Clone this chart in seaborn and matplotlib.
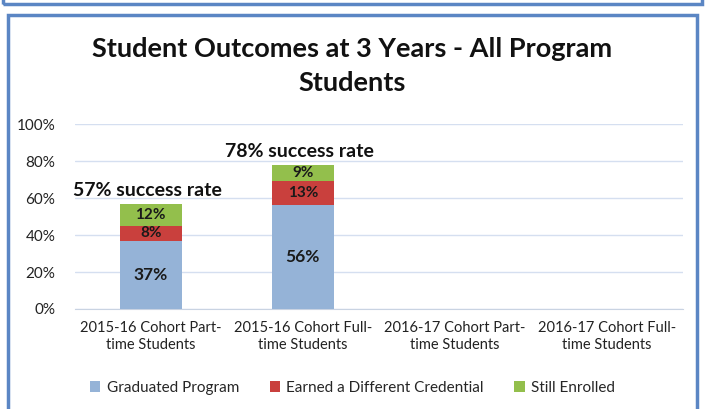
import numpy as np
import pandas as pd
import matplotlib
matplotlib.use("Agg")
import matplotlib.pyplot as plt
import seaborn as sns
from matplotlib.patches import Rectangle, Patch

# data
cohorts = ["2015-16 Cohort Part-\ntime Students", "2015-16 Cohort Full-\ntime Students",
           "2016-17 Cohort Part-\ntime Students", "2016-17 Cohort Full-\ntime Students"]
graduated = [37, 56, np.nan, np.nan]
credential = [8, 13, np.nan, np.nan]
enrolled = [12, 9, np.nan, np.nan]
success = [57, 78, np.nan, np.nan]

series_names = ["Graduated Program", "Earned a Different Credential", "Still Enrolled"]
colors = ["#95b3d7", "#c9403d", "#93bf4c"]

sns.set_style("white")
plt.rcParams["font.family"] = ["Lato", "DejaVu Sans"]

df = pd.DataFrame({"cohort": cohorts, "grad": graduated, "cred": credential, "enr": enrolled})
df["lvl2"] = df["grad"] + df["cred"]
df["lvl3"] = df["lvl2"] + df["enr"]

fig = plt.figure(figsize=(7.05, 4.09), dpi=100)
ax = fig.add_axes([0.106, 0.2445, 0.863, 0.4523])

# stacked bars drawn as overlapping cumulative layers
for col, c in zip(["lvl3", "lvl2", "grad"], colors[::-1]):
    sns.barplot(data=df, x="cohort", y=col, order=cohorts, color=c, width=0.41,
                saturation=1, ax=ax, errorbar=None, zorder=3, linewidth=0)

# segment labels
for i in range(len(cohorts)):
    if np.isnan(graduated[i]):
        continue
    ax.text(i, graduated[i] / 2, f"{graduated[i]:.0f}%", ha="center", va="center",
            fontsize=12.5, fontweight="bold", color="#1a1a1a", zorder=5)
    ax.text(i, graduated[i] + credential[i] / 2, f"{credential[i]:.0f}%", ha="center", va="center",
            fontsize=11, fontweight="bold", color="#1a1a1a", zorder=5)
    ax.text(i, graduated[i] + credential[i] + enrolled[i] / 2, f"{enrolled[i]:.0f}%", ha="center",
            va="center", fontsize=11, fontweight="bold", color="#1a1a1a", zorder=5)
    ax.text(i - 0.02, success[i] + 2.5, f"{success[i]:.0f}% success rate", ha="center", va="bottom",
            fontsize=14, fontweight="bold", color="#111111", zorder=5)

ax.set_ylim(0, 100)
ax.set_xlim(-0.5, 3.5)
ax.set_yticks(range(0, 101, 20))
ax.set_yticklabels([f"{v}%" for v in range(0, 101, 20)], fontsize=11, color="#222222")
ax.tick_params(axis="x", labelsize=10.5, colors="#222222", length=0, pad=9)
ax.tick_params(axis="y", length=0, pad=14)
ax.set_xlabel("")
ax.set_ylabel("")
ax.yaxis.grid(True, color="#d5dff0", linewidth=1)
ax.set_axisbelow(True)
for s in ["top", "right", "left"]:
    ax.spines[s].set_visible(False)
ax.spines["bottom"].set_color("#c9d3e2")

fig.text(0.5, 0.838, "Student Outcomes at 3 Years - All Program\nStudents", ha="center", va="center",
         fontsize=19.5, fontweight="bold", color="#111111", linespacing=1.5)

handles = [Patch(facecolor=c, edgecolor="none") for c in colors]
fig.legend(handles, series_names, loc="center", bbox_to_anchor=(0.5, 0.051), ncol=3, frameon=False,
           fontsize=11, handlelength=0.7, handleheight=0.7, handletextpad=0.4, columnspacing=2.0)

# blue panel frames
fig.patches.append(Rectangle((0.011, -0.05), 0.978, 1.013, transform=fig.transFigure,
                             fill=False, edgecolor="#5b86c4", linewidth=2.5))
fig.patches.append(Rectangle((0.004, 0.99), 0.992, 0.2, transform=fig.transFigure, fill=False,
                             edgecolor="#5b86c4", linewidth=2.5))

fig.savefig("out.png", dpi=100)
